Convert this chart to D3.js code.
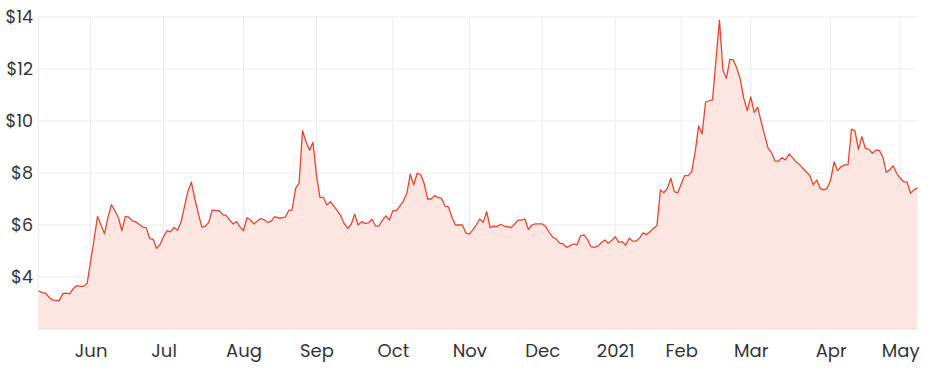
<!DOCTYPE html>
<html>
<head>
<meta charset="utf-8">
<script src="https://cdn.jsdelivr.net/npm/d3@7"></script>
<style>
	body {
		margin: 0;
		background: #fff;
	}
	svg text {
		font-family: Poppins, "Noto Sans", sans-serif;
		fill: #333;
	}
</style>
</head>
<body>
<svg id="chart" width="932" height="371"></svg>
<script>
// daily closing price, one value per trading day (11 May 2020 - 10 May 2021)
var prices = [
	3.47, 3.40, 3.38, 3.22, 3.12, 3.10, 3.10, 3.36, 3.38, 3.35,
	3.55, 3.67, 3.64, 3.64, 3.76, 4.60, 5.45, 6.33, 6.00, 5.66,
	6.30, 6.78, 6.55, 6.28, 5.78, 6.33, 6.30, 6.16, 6.12, 6.02,
	5.92, 5.90, 5.48, 5.45, 5.10, 5.25, 5.55, 5.78, 5.74, 5.90,
	5.80, 6.10, 6.70, 7.30, 7.65, 7.00, 6.45, 5.92, 5.95, 6.10,
	6.58, 6.55, 6.55, 6.40, 6.37, 6.20, 6.04, 6.14, 5.93, 5.78,
	6.28, 6.20, 6.04, 6.15, 6.25, 6.20, 6.10, 6.15, 6.32, 6.27,
	6.27, 6.30, 6.55, 6.58, 7.41, 7.60, 9.63, 9.20, 8.88, 9.18,
	7.92, 7.06, 7.06, 6.77, 6.90, 6.73, 6.55, 6.35, 6.05, 5.87,
	6.03, 6.42, 6.00, 6.13, 6.06, 6.08, 6.22, 5.96, 5.96, 6.19,
	6.35, 6.19, 6.55, 6.55, 6.73, 6.92, 7.20, 7.96, 7.54, 7.99,
	7.94, 7.60, 7.00, 7.00, 7.13, 7.05, 7.03, 6.73, 6.70, 6.30,
	6.00, 6.00, 6.00, 5.70, 5.65, 5.81, 6.00, 6.23, 6.10, 6.51,
	5.90, 5.96, 5.94, 6.03, 5.96, 5.94, 5.90, 6.03, 6.19, 6.19,
	6.23, 5.83, 6.00, 6.04, 6.04, 6.04, 5.94, 5.72, 5.53, 5.47,
	5.30, 5.27, 5.14, 5.21, 5.27, 5.24, 5.58, 5.62, 5.45, 5.17,
	5.14, 5.19, 5.32, 5.42, 5.30, 5.40, 5.55, 5.33, 5.36, 5.22,
	5.49, 5.38, 5.38, 5.49, 5.70, 5.63, 5.74, 5.87, 5.97, 7.35,
	7.24, 7.41, 7.80, 7.28, 7.24, 7.58, 7.90, 7.90, 8.05, 8.80,
	9.81, 9.50, 10.72, 10.78, 10.81, 12.35, 13.88, 11.96, 11.64, 12.37,
	12.35, 12.03, 11.60, 10.87, 10.40, 10.93, 10.33, 10.53, 9.97, 9.46,
	8.95, 8.78, 8.46, 8.46, 8.59, 8.50, 8.73, 8.60, 8.43, 8.33,
	8.18, 8.05, 7.90, 7.54, 7.73, 7.41, 7.35, 7.41, 7.73, 8.43,
	8.09, 8.24, 8.31, 8.31, 9.69, 9.62, 8.91, 9.40, 8.95, 8.92,
	8.76, 8.88, 8.87, 8.63, 8.03, 8.12, 8.28, 7.99, 7.80, 7.67,
	7.65, 7.22, 7.35, 7.43
];

// market closed days (weekends skipped separately)
var holidays = ["2020-06-08", "2020-12-25", "2020-12-28", "2021-01-01",
	"2021-01-26", "2021-04-02", "2021-04-05"];
var firstDay = "2020-05-11";

var yTicks = [4, 6, 8, 10, 12, 14];
var monthNames = ["Jan", "Feb", "Mar", "Apr", "May", "Jun", "Jul", "Aug", "Sep", "Oct", "Nov", "Dec"];

var fmtDay = d3.utcFormat("%Y-%m-%d");
var dates = [];
var d = new Date(firstDay + "T00:00:00Z");
while (dates.length < prices.length) {
	var wd = d.getUTCDay();
	if (wd != 0 && wd != 6 && holidays.indexOf(fmtDay(d)) < 0) {
		dates.push(new Date(d));
	}
	d = d3.utcDay.offset(d, 1);
}

// first trading day of each month gets a tick
var monthTicks = [];
for (var i = 1; i < dates.length; i++) {
	if (dates[i].getUTCMonth() != dates[i - 1].getUTCMonth()) monthTicks.push(i);
}
function tickLabel(i) {
	var m = dates[i].getUTCMonth();
	return m == 0 ? String(dates[i].getUTCFullYear()) : monthNames[m];
}

var margin = {top: 17, right: 14.5, bottom: 42, left: 38.5};
var width = 932, height = 371;

var svg = d3.select("#chart");

var x = d3.scaleLinear()
	.domain([0, prices.length - 1])
	.range([margin.left, width - margin.right]);
var y = d3.scaleLinear()
	.domain([2, 14])
	.range([height - margin.bottom, margin.top]);

// grid
var grid = svg.append("g").attr("class", "grid");
grid.selectAll(".hline").data(yTicks).enter().append("line")
	.attr("x1", margin.left).attr("x2", width - margin.right)
	.attr("y1", function (v) { return y(v); })
	.attr("y2", function (v) { return y(v); })
	.style("stroke", "#ececec").style("stroke-width", 1);
grid.selectAll(".vline").data([0].concat(monthTicks)).enter().append("line")
	.attr("x1", function (i) { return x(i); })
	.attr("x2", function (i) { return x(i); })
	.attr("y1", margin.top).attr("y2", height - margin.bottom)
	.style("stroke", "#ececec").style("stroke-width", 1);

// area + line
var area = d3.area()
	.x(function (v, i) { return x(i); })
	.y0(y(2))
	.y1(function (v) { return y(v); });
var line = d3.line()
	.x(function (v, i) { return x(i); })
	.y(function (v) { return y(v); });

svg.append("path").datum(prices)
	.attr("d", area)
	.style("fill", "#fde6e2")
	.style("stroke", "none");
svg.append("path").datum(prices)
	.attr("d", line)
	.style("fill", "none")
	.style("stroke", "#e8452f")
	.style("stroke-width", 1.3)
	.style("stroke-linejoin", "round");

// bottom axis line
svg.append("line")
	.attr("x1", margin.left).attr("x2", width - margin.right)
	.attr("y1", y(2)).attr("y2", y(2))
	.style("stroke", "#e2dcdc").style("stroke-width", 1);

// axes (labels only)
var xAxis = d3.axisBottom(x)
	.tickValues(monthTicks)
	.tickFormat(tickLabel)
	.tickSize(0)
	.tickPadding(15);
svg.append("g")
	.attr("class", "x-axis")
	.attr("transform", "translate(0," + (height - margin.bottom) + ")")
	.call(xAxis)
	.call(function (g) { g.select(".domain").remove(); });

var yAxis = d3.axisLeft(y)
	.tickValues(yTicks)
	.tickFormat(function (v) { return "$" + v; })
	.tickSize(0)
	.tickPadding(5.5);
svg.append("g")
	.attr("class", "y-axis")
	.attr("transform", "translate(" + margin.left + ",0)")
	.call(yAxis)
	.call(function (g) { g.select(".domain").remove(); });

svg.selectAll(".tick text")
	.style("font-family", "Poppins, 'Noto Sans', sans-serif")
	.style("fill", "#333");
svg.selectAll(".x-axis .tick text").style("font-size", "18px");
svg.selectAll(".y-axis .tick text").style("font-size", "17.5px");
</script>
</body>
</html>
